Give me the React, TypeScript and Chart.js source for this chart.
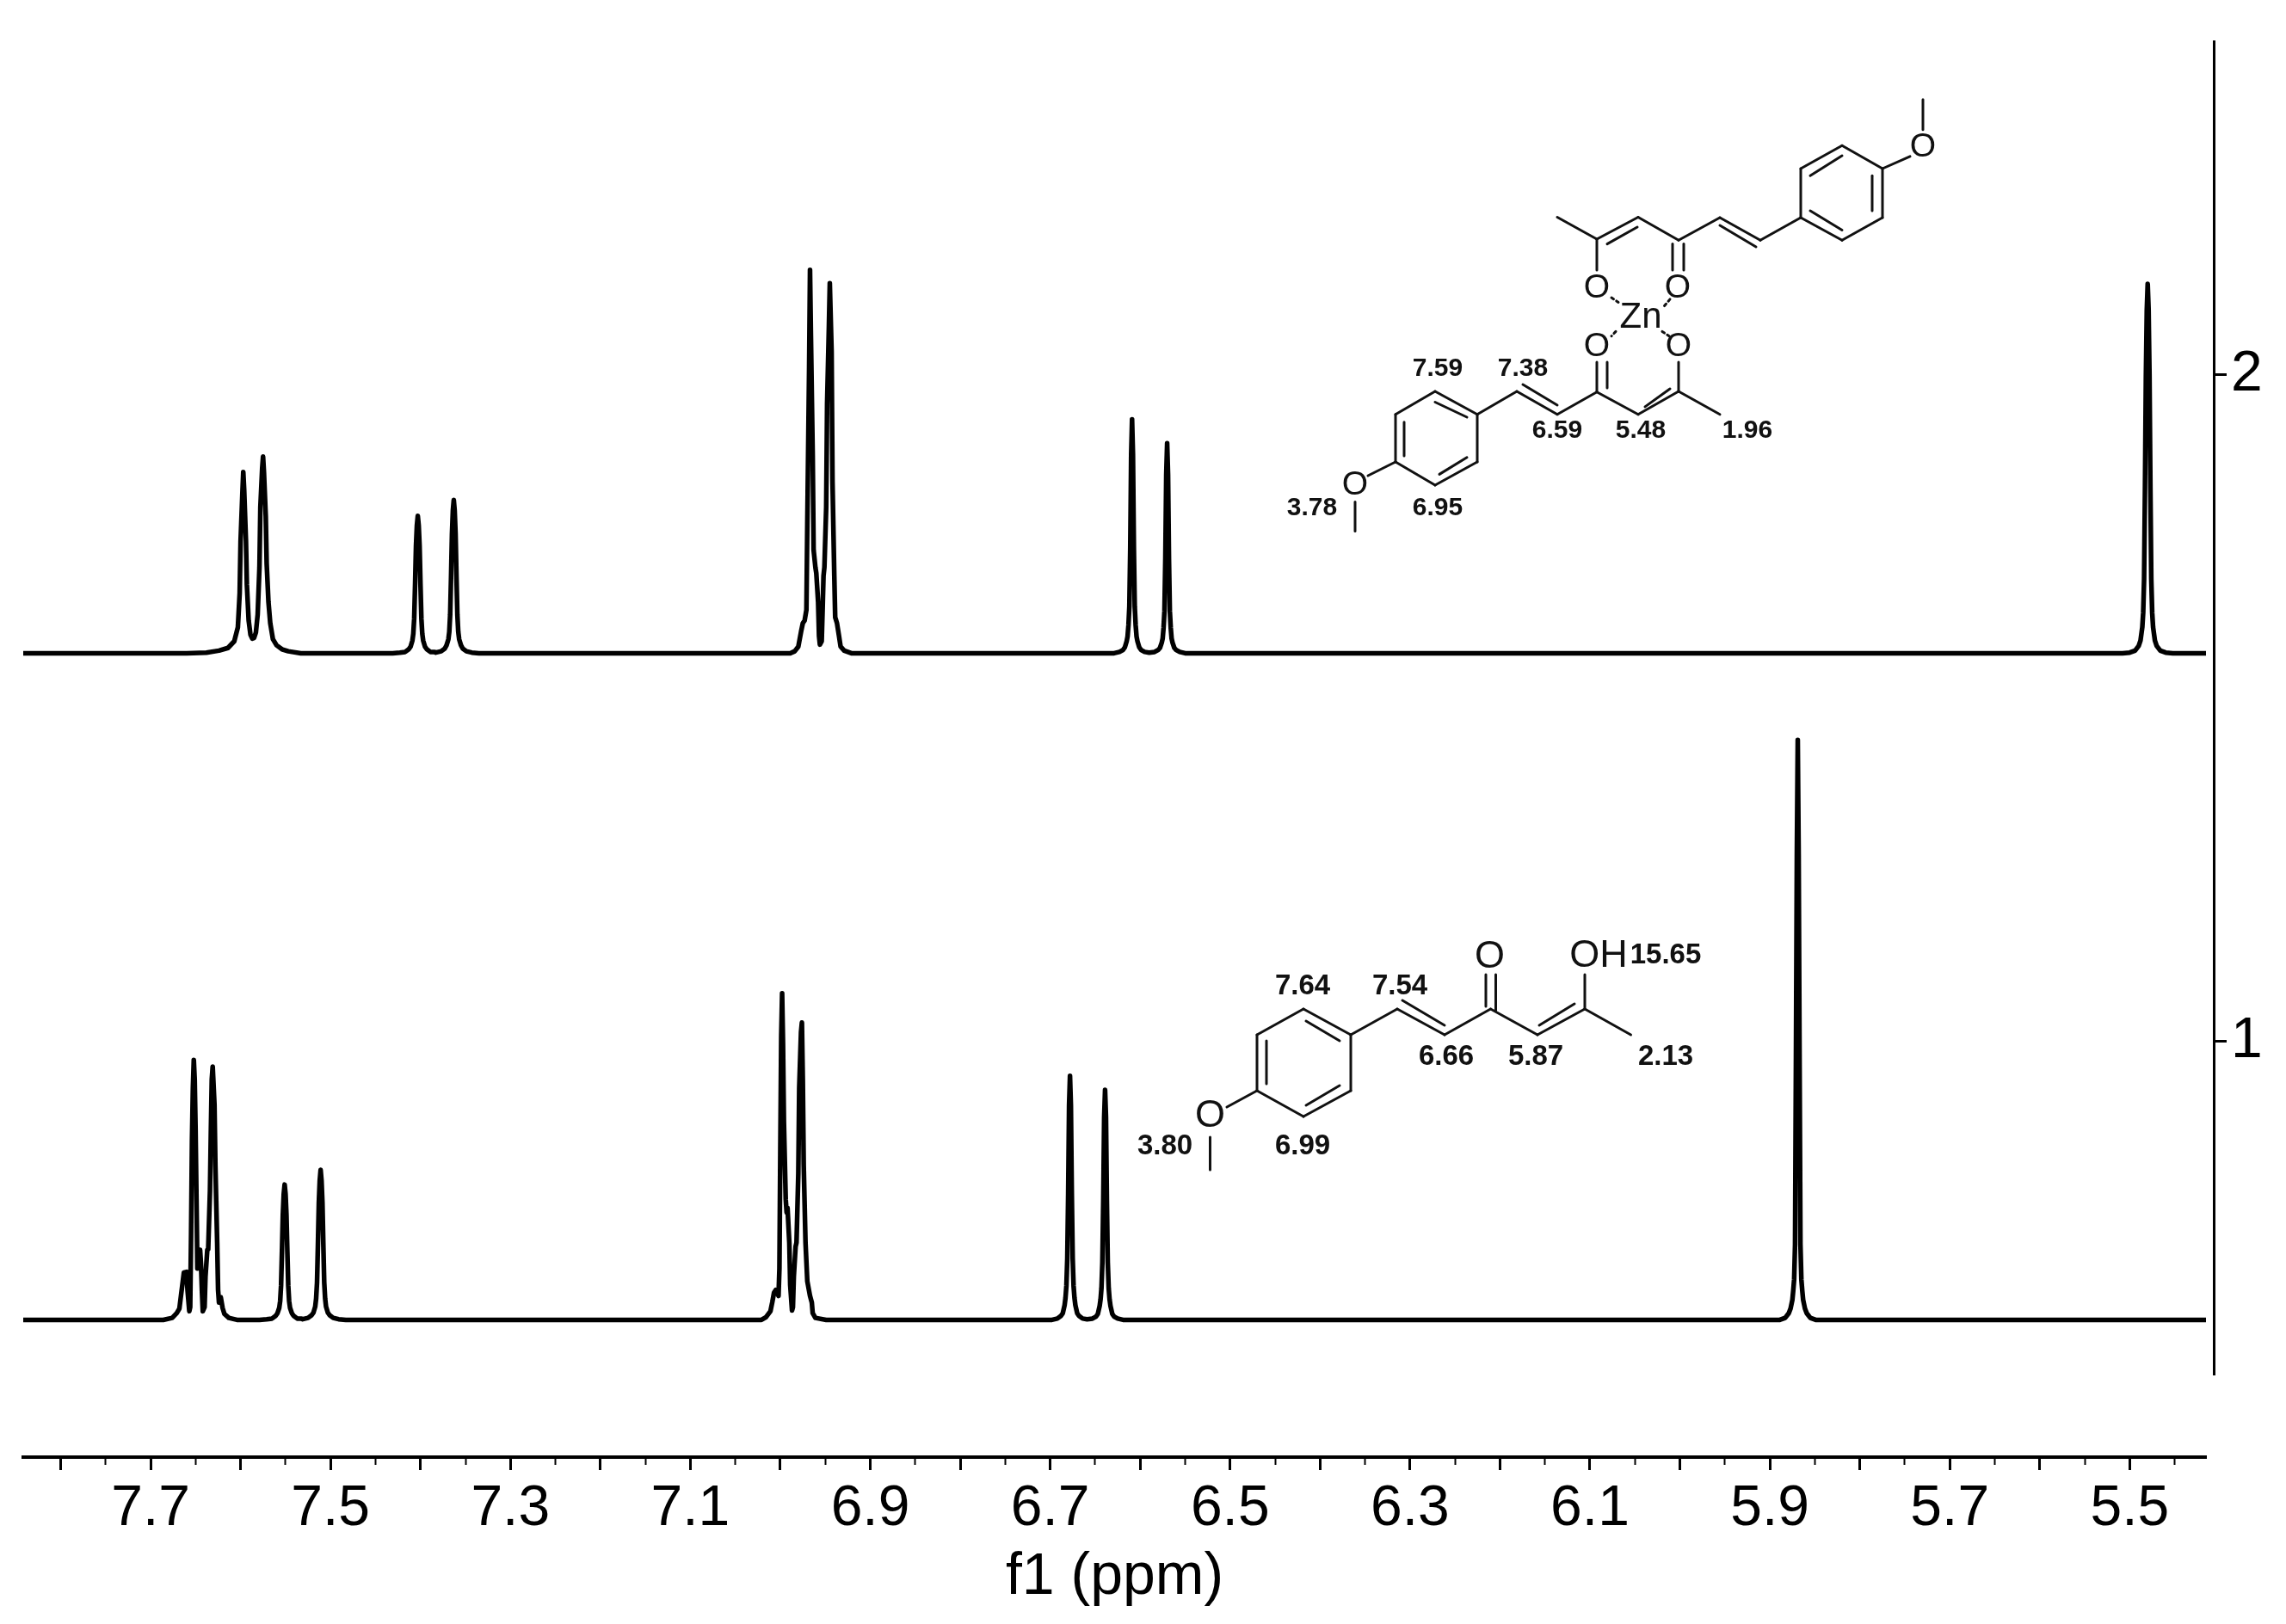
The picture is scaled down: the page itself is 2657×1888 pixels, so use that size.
import React, { useEffect, useRef } from "react";
import { Chart, registerables } from "chart.js";

Chart.register(...registerables);

const FONT = "'Liberation Sans', Arial, sans-serif";

const xTickLabels = ["7.7", "7.5", "7.3", "7.1", "6.9", "6.7", "6.5", "6.3", "6.1", "5.9", "5.7", "5.5"];
const yTickValues = [1, 2];
const xTitle = "f1 (ppm)";
const stackOffsets = { top: 1.582, bottom: 0.582 };

// [ppm, intensity above the spectrum's own baseline]
const topSpectrum: [number, number][] = [
  [7.842, 0], [7.66, 0], [7.638, 0.001], [7.624, 0.004], [7.614, 0.008], [7.607, 0.018], [7.603, 0.039], [7.601, 0.09],
  [7.6, 0.168], [7.598, 0.239], [7.597, 0.272], [7.596, 0.245], [7.594, 0.168], [7.593, 0.103], [7.591, 0.049],
  [7.589, 0.028], [7.587, 0.022], [7.585, 0.023], [7.583, 0.031], [7.581, 0.058], [7.579, 0.129], [7.578, 0.219],
  [7.576, 0.277], [7.575, 0.295], [7.574, 0.271], [7.572, 0.206], [7.571, 0.135], [7.569, 0.077], [7.567, 0.045],
  [7.564, 0.021], [7.56, 0.012], [7.554, 0.006], [7.547, 0.003], [7.533, 0],
  [7.431, 0], [7.423, 0.001], [7.417, 0.002], [7.413, 0.006], [7.411, 0.01], [7.409, 0.019], [7.408, 0.029], [7.407, 0.052],
  [7.406, 0.103], [7.405, 0.161], [7.404, 0.192], [7.403, 0.206], [7.402, 0.192], [7.401, 0.161], [7.4, 0.103], [7.399, 0.052],
  [7.398, 0.029], [7.397, 0.019], [7.395, 0.01], [7.393, 0.006], [7.389, 0.002], [7.385, 0.002], [7.383, 0.001], [7.377, 0.003],
  [7.373, 0.007], [7.371, 0.012], [7.369, 0.021], [7.368, 0.032], [7.367, 0.058], [7.366, 0.115], [7.365, 0.179], [7.364, 0.214],
  [7.363, 0.23], [7.362, 0.214], [7.361, 0.179], [7.36, 0.115], [7.359, 0.058], [7.358, 0.032], [7.357, 0.021], [7.355, 0.012],
  [7.353, 0.007], [7.349, 0.003], [7.343, 0.001], [7.335, 0],
  [6.989, 0], [6.984, 0.003], [6.98, 0.01], [6.977, 0.032], [6.975, 0.045], [6.973, 0.049], [6.971, 0.065], [6.97, 0.194],
  [6.968, 0.426], [6.967, 0.575], [6.966, 0.477], [6.964, 0.297], [6.963, 0.155], [6.961, 0.129], [6.96, 0.12], [6.958, 0.077],
  [6.957, 0.026], [6.956, 0.013], [6.954, 0.018], [6.953, 0.065], [6.952, 0.116], [6.951, 0.129], [6.949, 0.219], [6.948, 0.374],
  [6.946, 0.49], [6.945, 0.555], [6.943, 0.452], [6.942, 0.258], [6.94, 0.116], [6.939, 0.054], [6.937, 0.045], [6.935, 0.028],
  [6.933, 0.01], [6.929, 0.004], [6.921, 0],
  [6.629, 0], [6.623, 0.002], [6.619, 0.005], [6.617, 0.009], [6.615, 0.018], [6.614, 0.025], [6.613, 0.042], [6.612, 0.07],
  [6.611, 0.158], [6.61, 0.298], [6.609, 0.351], [6.608, 0.298], [6.607, 0.158], [6.606, 0.07], [6.605, 0.042], [6.604, 0.025],
  [6.603, 0.018], [6.601, 0.009], [6.599, 0.005], [6.595, 0.002], [6.59, 0.001], [6.584, 0.002], [6.58, 0.005], [6.578, 0.008],
  [6.576, 0.016], [6.575, 0.022], [6.574, 0.038], [6.573, 0.063], [6.572, 0.142], [6.571, 0.268], [6.57, 0.315], [6.569, 0.268],
  [6.568, 0.142], [6.567, 0.063], [6.566, 0.038], [6.565, 0.022], [6.564, 0.016], [6.562, 0.008], [6.56, 0.005], [6.556, 0.002], [6.55, 0],
  [5.508, 0], [5.5, 0.001], [5.494, 0.004], [5.49, 0.011], [5.488, 0.019], [5.486, 0.039], [5.485, 0.061], [5.484, 0.111],
  [5.483, 0.249], [5.482, 0.416], [5.481, 0.515], [5.48, 0.554], [5.479, 0.515], [5.478, 0.416], [5.477, 0.249], [5.476, 0.111],
  [5.475, 0.061], [5.474, 0.039], [5.472, 0.019], [5.47, 0.011], [5.466, 0.004], [5.46, 0.001], [5.452, 0], [5.415, 0],
];

const bottomSpectrum: [number, number][] = [
  [7.842, 0], [7.686, 0], [7.676, 0.003], [7.671, 0.01], [7.668, 0.017], [7.666, 0.039], [7.663, 0.071], [7.66, 0.072],
  [7.659, 0.045], [7.657, 0.013], [7.656, 0.019], [7.655, 0.129], [7.654, 0.271], [7.653, 0.348], [7.652, 0.39], [7.651, 0.361],
  [7.65, 0.284], [7.649, 0.181], [7.648, 0.077], [7.646, 0.097], [7.645, 0.105], [7.644, 0.084], [7.643, 0.045], [7.642, 0.013],
  [7.64, 0.019], [7.639, 0.065], [7.637, 0.105], [7.636, 0.106], [7.634, 0.194], [7.633, 0.284], [7.632, 0.361], [7.631, 0.38],
  [7.629, 0.323], [7.628, 0.232], [7.626, 0.116], [7.625, 0.045], [7.624, 0.026], [7.623, 0.034], [7.622, 0.034], [7.62, 0.018],
  [7.618, 0.009], [7.613, 0.003], [7.604, 0],
  [7.579, 0], [7.571, 0.001], [7.565, 0.002], [7.561, 0.006], [7.559, 0.01], [7.557, 0.018], [7.556, 0.028], [7.555, 0.051],
  [7.554, 0.102], [7.553, 0.158], [7.552, 0.189], [7.551, 0.203], [7.55, 0.189], [7.549, 0.158], [7.548, 0.102], [7.547, 0.051],
  [7.546, 0.028], [7.545, 0.018], [7.543, 0.01], [7.541, 0.006], [7.537, 0.002], [7.533, 0.002], [7.531, 0.001], [7.525, 0.003],
  [7.521, 0.007], [7.519, 0.011], [7.517, 0.02], [7.516, 0.032], [7.515, 0.056], [7.514, 0.113], [7.513, 0.176], [7.512, 0.209],
  [7.511, 0.225], [7.51, 0.209], [7.509, 0.176], [7.508, 0.113], [7.507, 0.056], [7.506, 0.032], [7.505, 0.02], [7.503, 0.011],
  [7.501, 0.007], [7.497, 0.003], [7.491, 0.001], [7.483, 0],
  [7.021, 0], [7.016, 0.004], [7.011, 0.013], [7.009, 0.026], [7.007, 0.041], [7.005, 0.045], [7.003, 0.039], [7.002, 0.036],
  [7.001, 0.077], [7.0, 0.258], [6.999, 0.426], [6.998, 0.49], [6.997, 0.413], [6.996, 0.297], [6.994, 0.181], [6.993, 0.161],
  [6.992, 0.168], [6.99, 0.116], [6.989, 0.052], [6.987, 0.014], [6.986, 0.019], [6.985, 0.065], [6.983, 0.11], [6.982, 0.116],
  [6.98, 0.219], [6.979, 0.348], [6.977, 0.432], [6.976, 0.446], [6.975, 0.361], [6.974, 0.232], [6.972, 0.116], [6.97, 0.058],
  [6.967, 0.036], [6.965, 0.026], [6.964, 0.01], [6.961, 0.003], [6.949, 0],
  [6.698, 0], [6.692, 0.002], [6.688, 0.006], [6.686, 0.01], [6.684, 0.022], [6.683, 0.033], [6.682, 0.051], [6.681, 0.092],
  [6.68, 0.19], [6.679, 0.322], [6.678, 0.366], [6.677, 0.322], [6.676, 0.19], [6.675, 0.092], [6.674, 0.051], [6.673, 0.033],
  [6.672, 0.022], [6.67, 0.01], [6.668, 0.006], [6.664, 0.002], [6.659, 0.001], [6.653, 0.002], [6.649, 0.005], [6.647, 0.009],
  [6.645, 0.021], [6.644, 0.031], [6.643, 0.048], [6.642, 0.086], [6.641, 0.179], [6.64, 0.304], [6.639, 0.345], [6.638, 0.304],
  [6.637, 0.179], [6.636, 0.086], [6.635, 0.048], [6.634, 0.031], [6.633, 0.021], [6.631, 0.009], [6.629, 0.005], [6.625, 0.002], [6.619, 0],
  [5.889, 0], [5.883, 0.003], [5.879, 0.01], [5.877, 0.017], [5.875, 0.03], [5.874, 0.044], [5.873, 0.061], [5.872, 0.113],
  [5.871, 0.392], [5.87, 0.696], [5.869, 0.87], [5.868, 0.696], [5.867, 0.392], [5.866, 0.113], [5.865, 0.061], [5.864, 0.044],
  [5.863, 0.03], [5.861, 0.017], [5.859, 0.01], [5.855, 0.003], [5.849, 0], [5.415, 0],
];

// ----- The two molecular structures that sit on the plot as annotations -----
type Seg = [number, number, number, number];
const zincBonds: Seg[] = [
  [2235, 115.7, 2235, 150.7], [2220, 181.8, 2188, 196], [2141, 169.3, 2188, 196], [2188, 196, 2188, 253], [2188, 253, 2141, 279.3],
  [2141, 279.3, 2093, 253], [2093, 253, 2093, 196], [2093, 196, 2141, 169.3], [2104, 204.3, 2141, 181], [2176, 204.3, 2176, 245],
  [2104, 245, 2141, 267.5], [2093, 253, 2046, 279.3], [2046, 279.3, 1999, 253], [2041, 287, 1999, 262], [1999, 253, 1951, 279.3],
  [1944, 283.6, 1944, 314], [1957, 283.6, 1957, 314], [1951, 279.3, 1904, 252.5], [1904, 252.5, 1856, 278], [1903, 264, 1868, 283.6],
  [1856, 278, 1810, 252.5], [1856, 278, 1856, 314],
  [1856, 421, 1856, 455], [1868, 421, 1868, 451], [1951, 421, 1951, 455], [1856, 455.7, 1904, 481.8], [1904, 481.8, 1951, 455],
  [1912, 472.9, 1941, 452], [1951, 455, 1999, 481.8], [1856, 455.7, 1810, 481.8], [1810, 481.8, 1763, 455], [1810, 471, 1770, 447],
  [1763, 455, 1717, 481.8], [1717, 481.8, 1668, 455], [1668, 455, 1622, 481.8], [1622, 481.8, 1622, 537], [1622, 537, 1668, 564],
  [1668, 564, 1717, 537], [1717, 537, 1717, 481.8], [1705, 485, 1668, 467.5], [1632, 490.7, 1632, 530], [1705, 531.8, 1673, 551.4],
  [1622, 537, 1590, 553], [1575, 583.6, 1575, 617.5],
];
const zincDots: Seg[] = [
  [1873, 346, 1881, 351.4], [1941, 347.9, 1932, 358.6], [1878, 385.4, 1873, 390.7], [1932, 385.4, 1940, 390.7],
];
const ligandBonds: Seg[] = [
  [1406.5, 1322, 1406.5, 1360], [1426, 1287, 1461, 1268], [1461, 1268, 1461, 1203], [1461, 1203, 1515, 1173], [1515, 1173, 1570, 1203],
  [1570, 1203, 1570, 1268], [1570, 1268, 1515, 1298], [1515, 1298, 1461, 1268], [1472, 1210, 1472, 1260], [1518, 1187, 1557, 1210],
  [1518, 1285, 1557, 1262], [1570, 1203, 1624, 1173], [1624, 1173, 1679, 1203], [1630, 1163, 1679, 1192], [1679, 1203, 1732.5, 1173],
  [1727, 1133, 1727, 1170], [1738.5, 1133, 1738.5, 1175], [1732.5, 1173, 1787, 1203], [1787, 1203, 1842, 1173], [1789, 1192, 1830, 1167],
  [1842, 1173, 1895.5, 1203], [1842, 1173, 1842, 1133],
];
type Lab = [string, number, number];
const zincAtoms: Lab[] = [["O", 2235, 171], ["O", 1856, 335.4], ["O", 1950, 335.4], ["O", 1856, 403], ["O", 1951, 403], ["O", 1575, 564]];
const zincMetal: Lab[] = [["Zn", 1907, 369]];
const zincShifts: Lab[] = [
  ["7.59", 1671, 429], ["7.38", 1770, 429], ["6.59", 1810, 501], ["5.48", 1907, 501], ["1.96", 2031, 501], ["3.78", 1525, 591], ["6.95", 1671, 591],
];
const ligandAtoms: Lab[] = [["O", 1406.5, 1298], ["O", 1731.6, 1113], ["OH", 1858, 1112]];
const ligandShifts: Lab[] = [
  ["7.64", 1514, 1147], ["7.54", 1627, 1147], ["15.65", 1936, 1111], ["6.66", 1681, 1229], ["5.87", 1785, 1229], ["2.13", 1936, 1229], ["3.80", 1354, 1333], ["6.99", 1514, 1333],
];

const structurePlugin = {
  id: "structures",
  afterDraw(chart: any) {
    const c = chart.ctx as CanvasRenderingContext2D;
    c.save();
    c.strokeStyle = "#111";
    c.fillStyle = "#111";
    c.lineCap = "round";
    c.lineWidth = 3;
    const seg = (s: Seg[]) =>
      s.forEach(([a, b, d, e]) => {
        c.beginPath();
        c.moveTo(a, b);
        c.lineTo(d, e);
        c.stroke();
      });
    seg(zincBonds);
    seg(ligandBonds);
    c.setLineDash([3, 4]);
    seg(zincDots);
    c.setLineDash([]);
    c.textAlign = "center";
    c.textBaseline = "middle";
    const text = (l: Lab[], font: string) => {
      c.font = font;
      l.forEach(([t, x, y]) => c.fillText(t, x, y));
    };
    text(zincAtoms, `39px ${FONT}`);
    text(zincMetal, `42px ${FONT}`);
    text(zincShifts, `bold 30px ${FONT}`);
    text(ligandAtoms, `45px ${FONT}`);
    text(ligandShifts, `bold 33px ${FONT}`);
    c.restore();
  },
};

// The axes are offset from the plot, as in the stacked-spectra layout of the source.
const axisOffsetPlugin = {
  id: "axisOffset",
  afterLayout(chart: any) {
    const { x, x2, y } = chart.scales;
    x.top = 1694;
    x.bottom = 1888;
    x2.top = 1694;
    x2.bottom = 1694;
    y.left = 2573;
    y.right = 2657;
  },
};

export default function App() {
  const ref = useRef<HTMLCanvasElement | null>(null);
  useEffect(() => {
    const toPoints = (s: [number, number][], offset: number) => s.map(([x, v]) => ({ x, y: offset + v }));
    const chart = new Chart(ref.current as HTMLCanvasElement, {
      type: "line",
      data: {
        datasets: [
          { label: "2", data: toPoints(topSpectrum, stackOffsets.top) },
          { label: "1", data: toPoints(bottomSpectrum, stackOffsets.bottom) },
        ].map((d) => ({
          ...d,
          borderColor: "#000",
          borderWidth: 5.5,
          pointRadius: 0,
          tension: 0,
          fill: false,
          borderJoinStyle: "round" as const,
        })),
      },
      options: {
        responsive: false,
        animation: false,
        devicePixelRatio: 1,
        layout: { padding: { left: 27, top: 48, right: 0, bottom: 0 } },
        plugins: { legend: { display: false }, tooltip: { enabled: false }, title: { display: false } },
        scales: {
          x: {
            type: "linear",
            position: "bottom",
            reverse: true,
            min: 5.4152,
            max: 7.8416,
            weight: 2,
            afterFit: (s: any) => {
              s.height = 290;
            },
            border: { display: true, color: "#000", width: 4 },
            grid: { drawOnChartArea: false, drawTicks: true, tickLength: 15, tickWidth: 3, tickColor: "#000" },
            ticks: {
              stepSize: 0.1,
              includeBounds: false,
              autoSkip: false,
              maxRotation: 0,
              color: "#000",
              padding: 6,
              font: { family: FONT, size: 66 },
              callback: (v: any) => (xTickLabels.includes(Number(v).toFixed(1)) ? Number(v).toFixed(1) : ""),
            },
            title: {
              display: true,
              text: xTitle,
              color: "#000",
              font: { family: FONT, size: 68 },
              padding: { top: 0, bottom: 13 },
            },
          },
          x2: {
            type: "linear",
            axis: "x",
            position: "bottom",
            reverse: true,
            min: 5.4152,
            max: 7.8416,
            weight: 1,
            afterFit: (s: any) => {
              s.height = 0;
            },
            border: { display: false },
            grid: { drawOnChartArea: false, drawTicks: true, tickLength: 9, tickWidth: 2, tickColor: "#000" },
            ticks: { display: false, stepSize: 0.05, includeBounds: false, autoSkip: false },
          },
          y: {
            type: "linear",
            position: "right",
            min: 0.5,
            max: 2.5,
            afterFit: (s: any) => {
              s.width = 93;
            },
            afterBuildTicks: (s: any) => {
              s.ticks = yTickValues.map((value) => ({ value }));
            },
            border: { display: true, color: "#000", width: 3 },
            grid: { drawOnChartArea: false, drawTicks: true, tickLength: 15, tickWidth: 3, tickColor: "#000" },
            ticks: {
              autoSkip: false,
              color: "#000",
              padding: 5,
              font: { family: FONT, size: 66 },
              callback: (v: any) => String(v),
            },
          },
        },
      } as any,
      plugins: [axisOffsetPlugin, structurePlugin],
    });
    return () => chart.destroy();
  }, []);
  return (
    <div style={{ position: "fixed", left: 0, top: 0, width: 2657, height: 1888, background: "#fff" }}>
      <canvas ref={ref} width={2657} height={1888} style={{ display: "block" }} />
    </div>
  );
}
